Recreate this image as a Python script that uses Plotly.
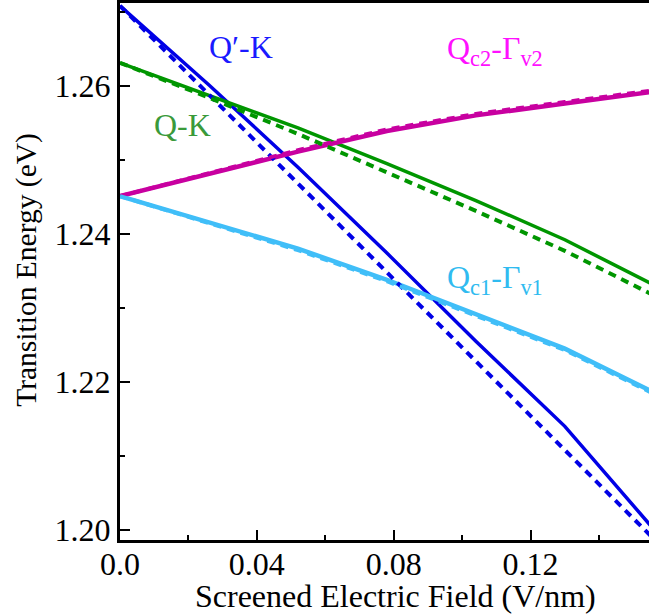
import plotly.graph_objects as go

field = [0.0, 0.026, 0.052, 0.078, 0.104, 0.130, 0.156]

qpk_solid = [1.2708, 1.2601, 1.2490, 1.2374, 1.2255, 1.2140, 1.2001]
qpk_dash = [1.2708, 1.2588, 1.2468, 1.2348, 1.2228, 1.2108, 1.1988]
qk_solid = [1.2631, 1.2587, 1.2543, 1.2495, 1.2445, 1.2392, 1.2331]
qk_dash = [1.2631, 1.2584, 1.2535, 1.2483, 1.2431, 1.2377, 1.2317]
qc2_solid = [1.2451, 1.2481, 1.2511, 1.2539, 1.2560, 1.2576, 1.2592]
qc2_dash = [1.2451, 1.2482, 1.2513, 1.2541, 1.2562, 1.2578, 1.2594]
qc1_solid = [1.2451, 1.2416, 1.2380, 1.2338, 1.2291, 1.2245, 1.2186]
qc1_dash = [1.2451, 1.2414, 1.2378, 1.2336, 1.2289, 1.2243, 1.2184]

x_tickvals = [0.0, 0.04, 0.08, 0.12]
x_ticktext = ["0.0", "0.04", "0.08", "0.12"]
y_tickvals = [1.20, 1.22, 1.24, 1.26]
y_ticktext = ["1.20", "1.22", "1.24", "1.26"]

x_title = "Screened Electric Field (V/nm)"
y_title = "Transition Energy (eV)"

BLUE = "#0000e6"
GREEN = "#009600"
MAGENTA = "#c800a0"
CYAN = "#40bef8"

FONT = "Liberation Serif"
FS = 32

fig = go.Figure()

series = [
    (qpk_solid, qpk_dash, BLUE, 3.5),
    (qk_solid, qk_dash, GREEN, 3.5),
    (qc2_solid, qc2_dash, MAGENTA, 4.5),
    (qc1_solid, qc1_dash, CYAN, 4.5),
]
for solid, dash, color, w in series:
    fig.add_trace(go.Scatter(x=field, y=solid, mode="lines",
                             line=dict(color=color, width=w), showlegend=False))
for solid, dash, color, w in series:
    fig.add_trace(go.Scatter(x=field, y=dash, mode="lines",
                             line=dict(color=color, width=4, dash="8px,6px"),
                             showlegend=False))

labels = [
    ("Q\u2032-K", 0.0355, 1.2653, "#1a1aff"),
    ("Q-K", 0.0182, 1.2547, "#3a9a3a"),
    ("Q<sub>c2</sub>-\u0393<sub>v2</sub>", 0.1097, 1.2648, "#ff10ff"),
    ("Q<sub>c1</sub>-\u0393<sub>v1</sub>", 0.1097, 1.2338, "#30bbf0"),
]
for text, x, y, color in labels:
    fig.add_annotation(x=x, y=y, text=text, showarrow=False,
                       font=dict(family=FONT, size=FS, color=color))

# axis titles
fig.add_annotation(x=0.5217, y=-0.105, xref="paper", yref="paper",
                   text=x_title, showarrow=False, xanchor="center", yanchor="middle",
                   font=dict(family=FONT, size=32, color="black"))
fig.add_annotation(x=-0.176, y=0.503, xref="paper", yref="paper",
                   text=y_title, showarrow=False, textangle=-90,
                   xanchor="center", yanchor="middle",
                   font=dict(family=FONT, size=29.5, color="black"))

fig.update_layout(
    width=649, height=616,
    margin=dict(l=120, r=0, t=3, b=76),
    plot_bgcolor="white", paper_bgcolor="white",
    font=dict(family=FONT, size=FS, color="black"),
)
fig.update_xaxes(
    range=[0, 0.1546], showgrid=False, zeroline=False,
    showline=True, linecolor="black", linewidth=3, mirror=True,
    ticks="inside", ticklen=10, tickwidth=2, tickcolor="black",
    tickvals=x_tickvals, ticktext=x_ticktext, ticklabelstandoff=-6,
    minor=dict(ticks="inside", ticklen=5, tickwidth=2, tickcolor="black", dtick=0.02),
    tickfont=dict(size=FS),
)
fig.update_yaxes(
    range=[1.19865, 1.27118], showgrid=False, zeroline=False,
    showline=True, linecolor="black", linewidth=3, mirror=False,
    ticks="inside", ticklen=10, tickwidth=2, tickcolor="black",
    tickvals=y_tickvals, ticktext=y_ticktext,
    minor=dict(ticks="inside", ticklen=5, tickwidth=2, tickcolor="black", dtick=0.01),
    tickfont=dict(size=FS),
)

fig.write_html("out.html")
